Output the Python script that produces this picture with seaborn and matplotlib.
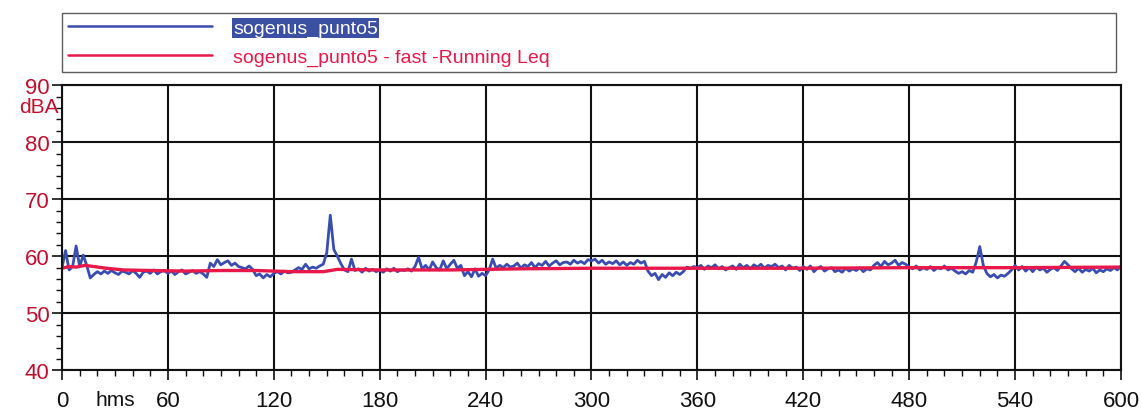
import numpy as np
import pandas as pd
import matplotlib
matplotlib.use("Agg")
import matplotlib.pyplot as plt
from matplotlib.ticker import MultipleLocator
import seaborn as sns

# ---- data ----
t_step = 2  # seconds between samples of the measured series
level_dba = [
    58.0, 61.0, 57.6, 58.2, 61.8, 58.2, 60.2, 58.4, 56.2, 56.8, 57.3, 56.9, 57.4, 57.0, 57.5,
    57.1, 56.8, 57.4, 57.2, 56.9, 57.5, 57.0, 56.3, 57.2, 57.4, 57.0, 57.6, 56.9, 57.3, 57.5,
    57.0, 57.4, 56.8, 57.3, 57.6, 56.9, 57.2, 57.5, 57.0, 57.3, 56.9, 56.3, 58.8, 58.2, 59.4,
    58.5, 58.9, 59.2, 58.4, 58.8, 58.2, 58.0, 57.8, 58.3, 57.7, 56.6, 56.9, 56.2, 56.8, 56.4,
    57.0, 57.3, 56.9, 57.4, 57.1, 57.2, 57.6, 58.0, 57.7, 58.6, 57.8, 58.1, 57.9, 58.3, 58.6,
    60.6, 67.2, 61.2, 60.0, 58.7, 57.6, 57.3, 59.5, 57.5, 57.8, 57.2, 57.9, 57.4, 57.7, 57.3,
    57.6, 57.2, 57.8, 57.4, 57.9, 57.3, 57.6, 57.5, 57.8, 57.4, 58.2, 59.8, 57.8, 58.4, 57.6,
    59.0, 58.0, 57.6, 59.2, 57.8, 58.6, 59.3, 57.9, 58.4, 56.6, 57.3, 56.4, 57.8, 56.5, 57.0,
    56.6, 57.6, 59.5, 57.9, 58.4, 58.0, 58.6, 58.1, 58.3, 58.8, 57.9, 58.5, 58.2, 58.9, 58.0,
    58.7, 58.4, 59.1, 58.3, 58.8, 59.2, 58.5, 58.9, 59.0, 58.6, 59.3, 58.8, 59.1, 58.7, 59.4,
    59.2, 59.5, 58.8, 59.3, 58.6, 59.0, 58.7, 59.2, 58.5, 59.0, 58.4, 58.9, 58.6, 59.3, 58.8,
    59.1, 57.4, 56.6, 57.0, 55.9, 56.8, 56.3, 57.1, 56.6, 57.2, 56.8, 57.3, 58.1, 57.9, 58.2,
    58.0, 58.4, 57.7, 58.3, 58.0, 58.5, 57.8, 58.2, 57.6, 58.0, 58.3, 57.7, 58.6, 58.0, 58.4,
    57.8, 58.5, 58.1, 58.6, 57.9, 58.4, 58.2, 58.6, 58.0, 58.3, 57.6, 58.4, 57.9, 58.1, 57.5,
    58.2, 57.7, 58.3, 57.3, 57.9, 58.2, 57.4, 57.8, 58.0, 57.3, 57.6, 57.2, 57.9, 57.4, 57.8,
    57.5, 58.0, 57.3, 57.8, 57.6, 58.4, 58.9, 58.2, 59.1, 58.5, 58.8, 59.3, 58.4, 58.9, 58.6,
    58.1, 57.8, 58.3, 57.6, 58.0, 57.7, 58.2, 57.5, 58.0, 57.8, 58.3, 57.6, 57.9, 57.4, 57.0,
    57.3, 56.9, 57.5, 57.2, 59.0, 61.7, 58.4, 57.0, 56.4, 56.8, 56.2, 56.7, 56.5, 57.0, 57.6,
    58.4, 57.6, 58.2, 57.4, 58.0, 57.3, 58.1, 57.6, 57.9, 57.2, 57.7, 58.0, 57.5, 58.3, 59.1,
    58.5, 57.8, 57.3, 57.9, 57.2, 57.7, 57.4, 57.9, 57.1, 57.6, 57.3, 57.8, 57.5, 58.0, 57.6,
    58.3,
]
time_s = [i * t_step for i in range(len(level_dba))]

leq_time_s = [0, 4, 8, 13, 18, 25, 35, 50, 70, 90, 110, 130, 148, 156, 180, 220, 260,
              300, 360, 420, 480, 540, 600]
leq_dba = [57.9, 58.2, 58.1, 58.4, 58.2, 57.9, 57.6, 57.5, 57.4, 57.5, 57.5, 57.3, 57.3,
           57.7, 57.6, 57.6, 57.8, 57.9, 57.9, 57.9, 58.0, 58.0, 58.1]

x_ticks = [0, 60, 120, 180, 240, 300, 360, 420, 480, 540, 600]
y_ticks = [40, 50, 60, 70, 80, 90]
series_names = ["sogenus_punto5", "sogenus_punto5 - fast -Running Leq"]

# ---- style ----
sns.set_style("white")
plt.rcParams["font.family"] = ["Liberation Sans", "DejaVu Sans"]

BLUE = "#3a4db0"
RED = "#e8184a"
LABEL_RED = "#c0102e"

fig = plt.figure(figsize=(11.42, 4.14), dpi=100)
ax = fig.add_axes([0.0543, 0.103, 0.9273, 0.689])

df_meas = pd.DataFrame({"t": time_s, "L": level_dba})
df_leq = pd.DataFrame({"t": leq_time_s, "L": leq_dba})

sns.lineplot(data=df_meas, x="t", y="L", ax=ax, color=BLUE, linewidth=2.0,
             label=series_names[0])
sns.lineplot(data=df_leq, x="t", y="L", ax=ax, color=RED, linewidth=2.4,
             label=series_names[1])

ax.set_xlim(0, 600)
ax.set_ylim(40, 90)
ax.set_xticks(x_ticks)
ax.set_yticks(y_ticks)
ax.xaxis.set_minor_locator(MultipleLocator(10))
ax.yaxis.set_minor_locator(MultipleLocator(2))
ax.set_xlabel("")
ax.set_ylabel("")

ax.grid(True, which="major", color="#111111", linewidth=1.5)
for s in ax.spines.values():
    s.set_color("#111111")
    s.set_linewidth(1.5)

ax.tick_params(axis="both", which="major", direction="out", length=7, width=1.2,
               color="#111111", labelsize=16)
ax.tick_params(axis="both", which="minor", direction="out", length=4, width=1.0,
               color="#111111")
ax.tick_params(axis="y", labelcolor=LABEL_RED, pad=2)
ax.tick_params(axis="x", labelcolor="#111111", pad=7)
ax.xaxis.set_ticks_position("bottom")
ax.yaxis.set_ticks_position("left")

ax.text(-0.003, 86.3, "dBA", transform=ax.get_yaxis_transform(), ha="right", va="center",
        color=LABEL_RED, fontsize=15)
ax.text(30, -0.12, "hms", transform=ax.get_xaxis_transform(), ha="center", va="baseline",
        color="#111111", fontsize=15)

leg = ax.legend(loc="lower left", bbox_to_anchor=(0.0, 1.045, 0.995, 0.22), mode="expand",
                ncol=1, frameon=True, fancybox=False, fontsize=14, handlelength=7.4,
                handletextpad=1.1, borderaxespad=0.0, labelspacing=0.6,
                borderpad=0.3)
leg.get_frame().set_edgecolor("#333333")
leg.get_frame().set_linewidth(1.0)
leg.get_lines()[0].set_linewidth(1.8)
leg.get_lines()[1].set_linewidth(1.8)
txt0, txt1 = leg.get_texts()
txt0.set_color("white")
txt0.set_bbox(dict(facecolor="#3b4fa3", edgecolor="none", pad=1.0))
txt1.set_color(RED)

fig.savefig("out.png", dpi=100, facecolor="white")
